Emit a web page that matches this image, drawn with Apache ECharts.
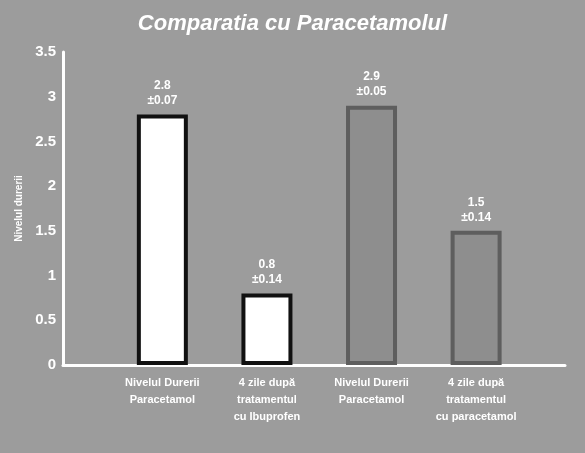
<!DOCTYPE html>
<html>
<head>
<meta charset="utf-8">
<script src="https://cdn.jsdelivr.net/npm/echarts@6/dist/echarts.min.js"></script>
<style>
html,body{margin:0;padding:0;background:#9c9c9c;}
#c{width:585px;height:453px;}
</style>
</head>
<body>
<div id="c"></div>
<script>
var categories = [
  "Nivelul Durerii\nParacetamol",
  "4 zile după\ntratamentul\ncu Ibuprofen",
  "Nivelul Durerii\nParacetamol",
  "4 zile după\ntratamentul\ncu paracetamol"
];
var positions = [1, 2, 3, 4];
var values = [2.8, 0.8, 2.9, 1.5];
var errors = ["±0.07", "±0.14", "±0.05", "±0.14"];
var yTicks = [0, 0.5, 1, 1.5, 2, 2.5, 3, 3.5];

var fills = ["#ffffff", "#ffffff", "#8e8e8e", "#8e8e8e"];
var borders = ["#111111", "#111111", "#5e5e5e", "#5e5e5e"];

var chart = echarts.init(document.getElementById('c'));
var data = values.map(function (v, i) {
  return {
    value: [positions[i], v],
    itemStyle: { color: fills[i], borderColor: borders[i], borderWidth: 4 }
  };
});
chart.setOption({
  backgroundColor: '#9c9c9c',
  animation: false,
  title: {
    text: 'Comparatia cu Paracetamolul',
    left: 'center',
    top: 8,
    textStyle: { color: '#fff', fontSize: 22, fontWeight: 'bold', fontStyle: 'italic', fontFamily: 'Liberation Sans' }
  },
  grid: { left: 63, right: 20, top: 52, bottom: 88 },
  xAxis: {
    type: 'value',
    min: 0.05,
    max: 4.85,
    splitLine: { show: false },
    axisLine: { show: true, lineStyle: { color: '#fff', width: 3 } },
    axisTick: { show: false },
    axisLabel: {
      customValues: positions,
      color: '#fff',
      fontSize: 11,
      fontWeight: 'bold',
      lineHeight: 17,
      margin: 9,
      fontFamily: 'Liberation Sans',
      formatter: function (v) {
        var i = positions.indexOf(Math.round(v));
        return i >= 0 ? categories[i] : '';
      }
    }
  },
  yAxis: {
    type: 'value',
    min: 0,
    max: 3.5,
    interval: 0.5,
    name: 'Nivelul durerii',
    nameLocation: 'middle',
    nameGap: 32,
    nameTextStyle: { color: '#fff', fontSize: 10, fontWeight: 'bold', fontFamily: 'Liberation Sans' },
    splitLine: { show: false },
    axisLine: { show: true, lineStyle: { color: '#fff', width: 3 } },
    axisTick: { show: false },
    axisLabel: {
      color: '#fff', fontSize: 15, fontWeight: 'bold', margin: 7, fontFamily: 'Liberation Sans',
      formatter: function (v) { return yTicks.indexOf(v) >= 0 ? String(v) : ''; }
    }
  },
  series: [{
    type: 'bar',
    barWidth: 51,
    data: data,
    label: {
      show: true,
      position: 'top',
      distance: 6,
      color: '#fff',
      fontSize: 12,
      fontWeight: 'bold',
      lineHeight: 15,
      fontFamily: 'Liberation Sans',
      formatter: function (p) { return values[p.dataIndex] + '\n' + errors[p.dataIndex]; }
    }
  }]
});
</script>
</body>
</html>
